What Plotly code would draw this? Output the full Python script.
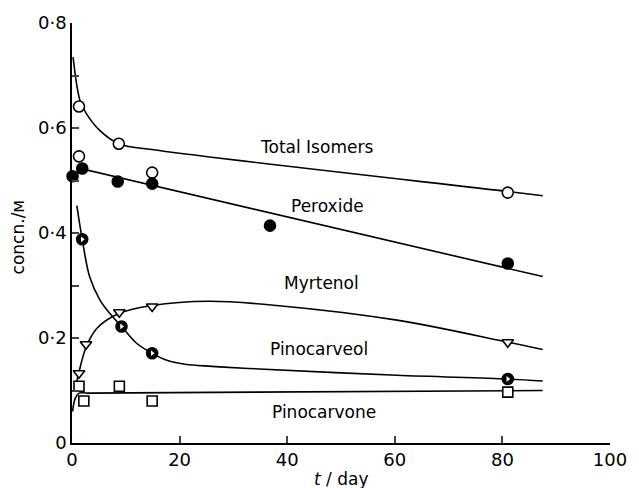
import plotly.graph_objects as go

# ---- measured points ----
tot_t = [1.3, 1.3, 8.7, 14.9, 81.0]
tot_c = [0.641, 0.546, 0.570, 0.515, 0.477]
per_t = [0.1, 1.9, 8.5, 14.9, 36.8, 81.0]
per_c = [0.508, 0.523, 0.498, 0.494, 0.414, 0.342]
myr_t = [1.3, 2.6, 8.8, 14.9, 81.0]
myr_c = [0.133, 0.188, 0.249, 0.260, 0.192]
pcl_t = [1.9, 9.2, 14.9, 81.0]
pcl_c = [0.388, 0.222, 0.171, 0.122]
pcn_t = [1.3, 2.2, 8.8, 14.9, 81.0]
pcn_c = [0.108, 0.080, 0.108, 0.080, 0.097]

# ---- hand-drawn fitted curves ----
tot_ft = [0.2, 1.5, 2.7, 5.2, 8.7, 16.2, 81.0, 87.5]
tot_fc = [0.735, 0.652, 0.627, 0.595, 0.570, 0.557, 0.479, 0.471]
per_ft = [0.1, 1.9, 87.5]
per_fc = [0.505, 0.522, 0.317]
myr_ft = [0.5, 1.3, 2.6, 4.6, 8.8, 14.9, 25.4, 38.0, 60.4, 81.0, 87.5]
myr_fc = [0.100, 0.135, 0.182, 0.218, 0.247, 0.262, 0.270, 0.262, 0.234, 0.192, 0.178]
pcl_ft = [0.9, 1.9, 3.3, 5.2, 7.0, 9.2, 12.0, 14.9, 17.5, 21.0, 26.0, 32.8, 60.4, 81.0, 87.5]
pcl_fc = [0.452, 0.388, 0.316, 0.272, 0.247, 0.222, 0.190, 0.171, 0.158, 0.150, 0.146, 0.142, 0.129, 0.122, 0.118]
pcn_ft = [0.1, 0.6, 1.3, 3.0, 87.5]
pcn_fc = [0.060, 0.085, 0.095, 0.095, 0.100]

labels = ["Total Isomers", "Peroxide", "Myrtenol", "Pinocarveol", "Pinocarvone"]
label_t = [45.5, 47.5, 46.3, 45.9, 46.8]
label_c = [0.563, 0.452, 0.304, 0.179, 0.059]

xticks = [0, 20, 40, 60, 80, 100]
yticks = [0, 0.1, 0.2, 0.3, 0.4, 0.5, 0.6, 0.7, 0.8]
yticktext = ["0", "", "0·2", "", "0·4", "", "0·6", "", "0·8"]

FONT = "DejaVu Sans"
fig = go.Figure()

for ft, fc, shape in [(tot_ft, tot_fc, "spline"), (per_ft, per_fc, "linear"),
                      (myr_ft, myr_fc, "spline"), (pcl_ft, pcl_fc, "spline"),
                      (pcn_ft, pcn_fc, "spline")]:
    fig.add_trace(go.Scatter(x=ft, y=fc, mode="lines", line=dict(color="black", width=1.6, shape=shape),
                             cliponaxis=False, showlegend=False, hoverinfo="skip"))

mk = dict(line=dict(color="black", width=1.6))
fig.add_trace(go.Scatter(x=tot_t, y=tot_c, mode="markers", cliponaxis=False, showlegend=False,
                         marker=dict(symbol="circle", size=11, color="white", **mk)))
fig.add_trace(go.Scatter(x=per_t, y=per_c, mode="markers", cliponaxis=False, showlegend=False,
                         marker=dict(symbol="circle", size=11, color="black", **mk)))
fig.add_trace(go.Scatter(x=myr_t, y=myr_c, mode="markers", cliponaxis=False, showlegend=False,
                         marker=dict(symbol="triangle-down", size=10, color="white", **mk)))
fig.add_trace(go.Scatter(x=pcl_t, y=pcl_c, mode="markers", cliponaxis=False, showlegend=False,
                         marker=dict(symbol="circle", size=11, color="black", **mk)))
fig.add_trace(go.Scatter(x=pcl_t, y=pcl_c, mode="markers", cliponaxis=False, showlegend=False,
                         marker=dict(symbol="triangle-right", size=5, color="white", line=dict(width=0))))
fig.add_trace(go.Scatter(x=pcn_t, y=pcn_c, mode="markers", cliponaxis=False, showlegend=False,
                         marker=dict(symbol="square", size=10, color="white", **mk)))

for lab, lt, lc in zip(labels, label_t, label_c):
    fig.add_annotation(x=lt, y=lc, text=lab, showarrow=False, font=dict(family=FONT, size=17, color="black"))

fig.add_annotation(xref="paper", yref="paper", x=-0.1, xanchor="center", y=0.49, text="concn./ᴍ",
                   textangle=-90, showarrow=False, font=dict(family=FONT, size=17, color="black"))
fig.add_annotation(xref="paper", yref="paper", x=0.5, y=-0.085, yanchor="middle",
                   text="<i>t</i> / day", showarrow=False, font=dict(family=FONT, size=17, color="black"))

fig.update_layout(
    width=639, height=488, margin=dict(l=72, r=24, t=22, b=45),
    plot_bgcolor="white", paper_bgcolor="white",
    font=dict(family=FONT, size=18, color="black"),
    xaxis=dict(range=[0, 100], tickvals=xticks, ticks="inside", ticklen=7, tickwidth=1.5,
               showline=True, linewidth=1.6, linecolor="black", showgrid=False, zeroline=False,
               tickfont=dict(size=18)),
    yaxis=dict(range=[0, 0.8], tickvals=yticks, ticktext=yticktext, ticks="inside", ticklen=7,
               tickwidth=1.5, showline=True, linewidth=1.6, linecolor="black", showgrid=False,
               zeroline=False, tickfont=dict(size=18)),
)

fig.write_html("out.html")
